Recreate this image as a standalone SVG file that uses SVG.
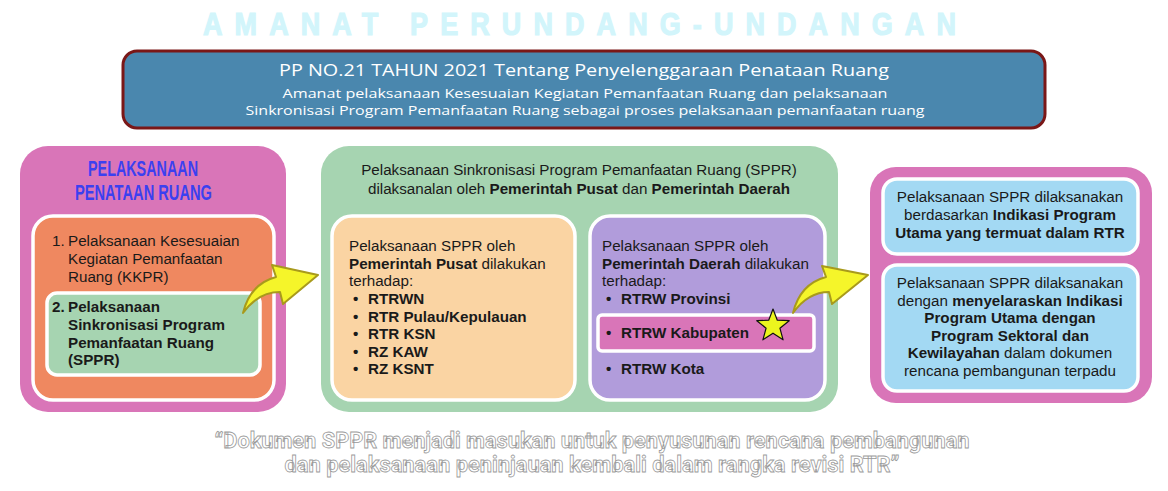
<svg xmlns="http://www.w3.org/2000/svg" width="1168" height="491" viewBox="0 0 1168 491">
<style>
.t{font-family:"Liberation Sans",Arial,sans-serif;font-size:15.2px;fill:#1a1a1a}
.b{font-weight:bold}
.inner{stroke:#ffffff;stroke-width:3.5}
.arrow{fill:#f5f52a;stroke:#a89a1c;stroke-width:2;stroke-linejoin:round}
.quote{font-family:"Roboto","Liberation Sans",sans-serif;font-weight:bold;font-size:22px;fill:#ffffff;stroke:#9a9a9a;stroke-width:0.8}
</style>
<rect width="1168" height="491" fill="#ffffff"/>
<g id="title">
<text x="203" y="35" textLength="765" lengthAdjust="spacingAndGlyphs" style="font-family:'Liberation Sans',sans-serif;font-weight:bold;font-size:31px;fill:#d2f5fb;stroke:#d2f5fb;stroke-width:1.2;letter-spacing:14px">AMANAT PERUNDANG-UNDANGAN</text>
</g>
<g id="header">
<rect x="123" y="51" width="922" height="77" rx="14" fill="#4a87ae" stroke="#7a1717" stroke-width="3"/>
<text x="584" y="76" text-anchor="middle" textLength="610" lengthAdjust="spacingAndGlyphs" style="font-family:'Open Sans',sans-serif;font-size:16px;fill:#ffffff">PP NO.21 TAHUN 2021 Tentang Penyelenggaraan Penataan Ruang</text>
<text x="585" y="98" text-anchor="middle" textLength="605" lengthAdjust="spacingAndGlyphs" style="font-family:'Open Sans',sans-serif;font-size:13px;fill:#ffffff">Amanat pelaksanaan Kesesuaian Kegiatan Pemanfaatan Ruang dan pelaksanaan</text>
<text x="585" y="115" text-anchor="middle" textLength="679" lengthAdjust="spacingAndGlyphs" style="font-family:'Open Sans',sans-serif;font-size:13px;fill:#ffffff">Sinkronisasi Program Pemanfaatan Ruang sebagai proses pelaksanaan pemanfaatan ruang</text>
</g>
<g id="left">
<rect x="20" y="146" width="266" height="266" rx="28" fill="#d975b8"/>
<text x="88" y="176" textLength="110" lengthAdjust="spacingAndGlyphs" style="font-family:'Liberation Sans',sans-serif;font-weight:bold;font-size:22px;fill:#3b40f0">PELAKSANAAN</text>
<text x="75" y="200" textLength="137" lengthAdjust="spacingAndGlyphs" style="font-family:'Liberation Sans',sans-serif;font-weight:bold;font-size:22px;fill:#3b40f0">PENATAAN RUANG</text>
<rect x="33" y="216" width="241" height="184" rx="20" fill="#ef8860" class="inner"/>
<text class="t" x="52" y="246">1.</text>
<text class="t" x="68" y="246">Pelaksanaan Kesesuaian</text>
<text class="t" x="68" y="264">Kegiatan Pemanfaatan</text>
<text class="t" x="68" y="282">Ruang (KKPR)</text>
<rect x="47" y="293" width="213" height="82" rx="10" fill="#a6d4b1" class="inner"/>
<text class="t b" x="52" y="312">2.</text>
<text class="t b" x="68" y="312">Pelaksanaan</text>
<text class="t b" x="68" y="330">Sinkronisasi Program</text>
<text class="t b" x="68" y="348">Pemanfaatan Ruang</text>
<text class="t b" x="68" y="365">(SPPR)</text>
</g>
<g id="middle">
<rect x="321" y="146" width="517" height="266" rx="28" fill="#a6d4b1"/>
<text class="t" x="579" y="175" text-anchor="middle">Pelaksanaan Sinkronisasi Program Pemanfaatan Ruang (SPPR)</text>
<text class="t" x="579" y="194" text-anchor="middle">dilaksanalan oleh <tspan class="b">Pemerintah Pusat</tspan> dan <tspan class="b">Pemerintah Daerah</tspan></text>
<g id="pusat">
<rect x="332" y="216" width="243" height="184" rx="20" fill="#fad4a3" class="inner"/>
<text class="t" x="349" y="251">Pelaksanaan SPPR oleh</text>
<text class="t" x="349" y="269"><tspan class="b">Pemerintah Pusat</tspan> dilakukan</text>
<text class="t" x="349" y="286">terhadap:</text>
<text class="t b" x="353" y="304">•</text><text class="t b" x="368" y="304">RTRWN</text>
<text class="t b" x="353" y="322">•</text><text class="t b" x="368" y="322">RTR Pulau/Kepulauan</text>
<text class="t b" x="353" y="339">•</text><text class="t b" x="368" y="339">RTR KSN</text>
<text class="t b" x="353" y="357">•</text><text class="t b" x="368" y="357">RZ KAW</text>
<text class="t b" x="353" y="374">•</text><text class="t b" x="368" y="374">RZ KSNT</text>
</g>
<g id="daerah">
<rect x="590" y="216" width="235" height="184" rx="20" fill="#b19cdb" class="inner"/>
<text class="t" x="602" y="251">Pelaksanaan SPPR oleh</text>
<text class="t" x="602" y="269"><tspan class="b">Pemerintah Daerah</tspan> dilakukan</text>
<text class="t" x="602" y="286">terhadap:</text>
<text class="t b" x="606" y="304">•</text><text class="t b" x="621" y="304">RTRW Provinsi</text>
<rect x="598" y="315" width="216" height="36" rx="4" fill="#d975b8" class="inner"/>
<text class="t b" x="606" y="338">•</text><text class="t b" x="621" y="338">RTRW Kabupaten</text>
<text class="t b" x="606" y="374">•</text><text class="t b" x="621" y="374">RTRW Kota</text>
</g>
</g>
<g id="right">
<rect x="870" y="167" width="282" height="236" rx="26" fill="#d975b8"/>
<rect x="883" y="179" width="255" height="75" rx="14" fill="#a3d9f3" class="inner"/>
<text class="t" x="1010" y="202" text-anchor="middle">Pelaksanaan SPPR dilaksanakan</text>
<text class="t" x="1010" y="220" text-anchor="middle">berdasarkan <tspan class="b">Indikasi Program</tspan></text>
<text class="t b" x="1010" y="238" text-anchor="middle">Utama yang termuat dalam RTR</text>
<rect x="883" y="265" width="255" height="126" rx="14" fill="#a3d9f3" class="inner"/>
<text class="t" x="1010" y="288" text-anchor="middle">Pelaksanaan SPPR dilaksanakan</text>
<text class="t" x="1010" y="306" text-anchor="middle">dengan <tspan class="b">menyelaraskan Indikasi</tspan></text>
<text class="t b" x="1010" y="323" text-anchor="middle">Program Utama dengan</text>
<text class="t b" x="1010" y="341" text-anchor="middle">Program Sektoral dan</text>
<text class="t" x="1010" y="358" text-anchor="middle"><tspan class="b">Kewilayahan</tspan> dalam dokumen</text>
<text class="t" x="1010" y="376" text-anchor="middle">rencana pembangunan terpadu</text>
</g>
<g id="connectors">
<path class="arrow" d="M243,313 Q250,284 276,277 L272,265 L318,275 L283,304 L280,292 Q258,292 243,313 Z"/>
<path class="arrow" d="M793,313 Q800,284 826,277 L822,266 L868,275 L832,304 L829,292 Q808,292 793,313 Z"/>
</g>
<g id="star">
<polygon points="773,309 777.3,320.2 789.2,320.7 779.9,328.2 783.1,339.8 773,333.2 762.9,339.8 766.1,328.2 756.8,320.7 768.7,320.2" fill="#ecf51e" stroke="#111111" stroke-width="1.2" stroke-linejoin="round"/>
</g>
<g id="quote">
<text class="quote" x="592" y="448" text-anchor="middle" textLength="755" lengthAdjust="spacingAndGlyphs">“Dokumen SPPR menjadi masukan untuk penyusunan rencana pembangunan</text>
<text class="quote" x="592" y="472" text-anchor="middle" textLength="615" lengthAdjust="spacingAndGlyphs">dan pelaksanaan peninjauan kembali dalam rangka revisi RTR”</text>
</g>
</svg>
